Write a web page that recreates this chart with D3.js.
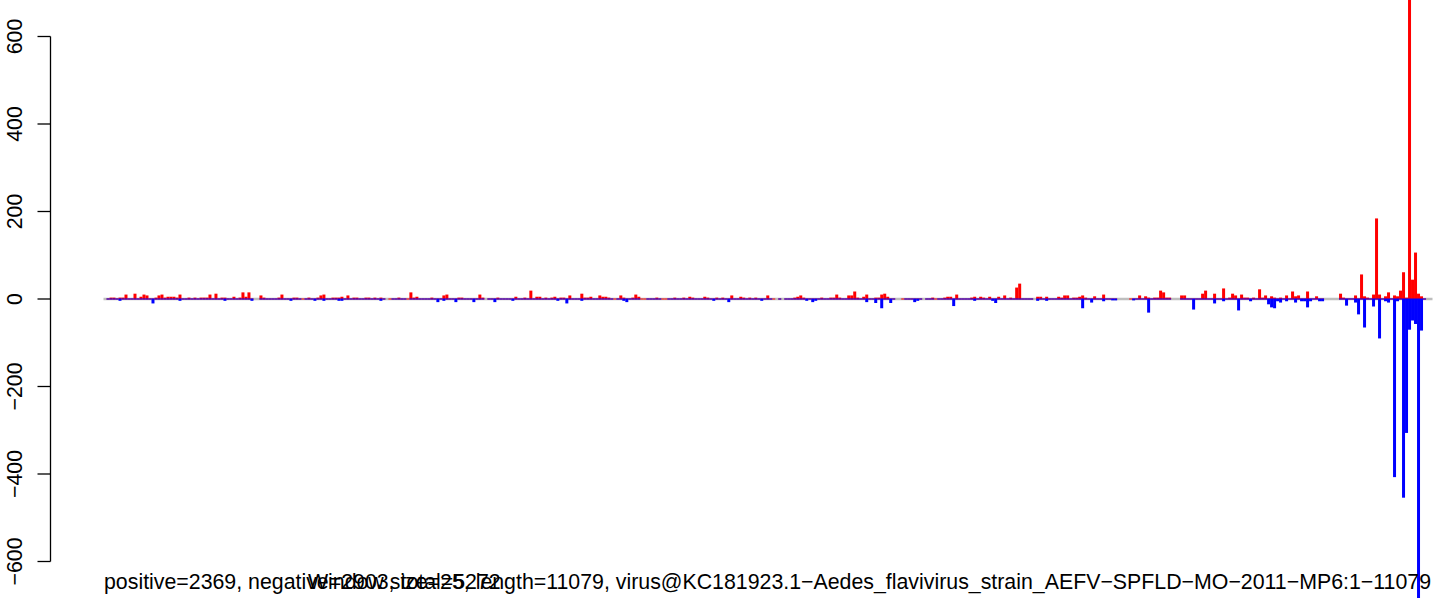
<!DOCTYPE html>
<html>
<head>
<meta charset="utf-8">
<script src="https://cdn.jsdelivr.net/npm/d3@7"></script>
<style>
  html, body { margin: 0; padding: 0; background: #fff; }
  svg { display: block; }
  text { font-family: "Liberation Sans", Arial, Helvetica, sans-serif; }
</style>
</head>
<body>
<svg id="chart" width="1444" height="598"></svg>
<script>
// ---- data ----
const windowSize = 25;
const genomeLength = 11079;
const yTicks = [-600, -400, -200, 0, 200, 400, 600];

// positive-strand read counts per 25-nt window (null = no data)
const positive = [
null,0,2,2,0,2,2,9,0,0,11,0,4,9,7,0,0,2,7,9,
2,4,4,4,2,9,0,0,2,0,2,0,2,2,2,9,0,11,0,2,
2,0,0,4,0,2,14,4,14,0,null,null,7,2,0,0,0,0,2,9,
0,0,0,2,2,0,0,0,2,0,0,2,7,9,0,0,2,2,2,4,
0,7,0,2,2,0,0,2,2,0,2,0,2,0,null,0,0,0,2,0,
0,0,14,2,4,0,0,0,0,2,0,0,0,7,9,0,0,0,2,2,
0,0,0,0,0,9,2,null,0,0,0,2,0,0,0,0,0,4,0,0,
2,0,18,0,4,4,0,2,0,2,4,0,2,2,0,7,0,0,0,11,
2,2,4,0,0,7,4,4,2,0,0,0,7,2,0,0,2,9,4,0,
0,0,0,0,2,0,0,0,0,0,2,0,0,2,0,4,2,0,0,0,
4,2,0,0,2,0,2,0,0,7,0,0,4,2,0,2,0,2,0,0,
0,7,0,0,null,0,null,0,0,0,2,4,7,2,0,0,0,0,0,2,
0,0,2,2,9,2,0,0,7,7,16,2,0,4,9,0,0,2,2,9,
11,4,0,0,null,null,0,0,0,0,0,0,0,null,0,0,2,0,0,0,
2,4,4,0,9,0,0,0,0,2,4,0,4,2,0,4,0,0,4,0,
7,0,2,0,25,34,0,0,0,0,null,4,4,0,4,0,0,0,4,2,
7,7,0,2,2,4,7,2,0,0,5,0,0,9,0,0,0,0,null,null,
null,null,0,0,0,7,0,5,2,0,2,2,18,14,2,2,null,null,null,7,
7,0,0,0,0,0,11,18,0,0,11,0,0,23,0,2,11,7,0,9,
2,2,0,2,0,21,2,7,0,5,2,0,2,0,7,0,16,5,7,0,
0,16,0,0,5,0,0,null,null,null,null,null,11,2,0,0,0,7,0,55,
5,2,0,9,183,9,0,5,14,0,7,5,18,60,2,720,43,105,11,5,
0,null,null,null];

// negative-strand read counts per 25-nt window (drawn below zero)
const negative = [
null,0,0,0,0,-3,0,0,0,0,0,0,0,0,0,0,-9,0,0,0,
0,0,0,0,0,-3,0,0,0,0,0,0,0,0,0,0,0,0,0,0,
-3,0,0,0,0,0,0,0,0,-3,null,null,0,0,0,0,0,0,0,0,
0,0,-3,0,0,0,null,0,0,0,-3,0,0,-3,0,0,0,0,-3,-3,
0,0,0,0,0,0,0,0,0,0,0,0,-3,0,null,null,0,0,0,0,
0,null,0,0,0,0,0,0,0,0,0,-6,0,-3,0,0,0,-6,0,0,
0,0,0,-6,0,0,0,null,0,0,-6,0,0,0,0,0,-3,0,0,0,
0,0,0,0,0,0,0,0,0,0,0,-3,0,0,-9,0,0,0,0,-3,
0,0,0,0,0,0,0,0,0,0,null,0,0,-3,-6,0,0,0,0,null,
null,0,0,0,0,0,null,null,0,0,0,0,0,0,0,0,0,0,0,0,
0,0,0,-3,0,0,0,0,-6,0,0,0,0,0,0,0,0,0,0,-3,
0,0,0,null,null,0,null,0,0,0,0,0,0,0,-3,0,-6,-3,0,0,
0,0,0,0,0,0,0,0,0,0,0,0,0,0,-6,0,0,-8,0,-20,
0,0,-8,0,null,null,null,0,0,0,-6,-3,0,null,0,0,0,null,0,0,
0,0,0,-15,0,0,0,0,0,0,-3,0,0,0,0,0,-3,-8,0,0,
0,0,0,0,0,0,0,0,0,0,null,-3,0,0,-3,0,0,0,0,0,
0,0,0,0,0,0,-20,0,0,-7,0,0,0,-4,0,0,-2,-2,null,null,
null,null,null,-2,0,0,0,0,-30,0,0,0,0,0,0,0,null,null,null,0,
0,0,0,-23,0,0,0,0,0,0,-9,0,0,-4,0,0,0,0,-25,0,
0,0,-4,0,0,0,0,0,-11,-18,-20,-4,-7,0,-4,0,0,-7,0,-4,
-4,-18,-4,0,0,-4,-4,null,null,null,null,null,0,0,-14,0,0,-7,-34,0,
-64,0,0,-16,0,-89,0,-4,-7,0,-406,-4,0,-453,-305,-69,-48,-56,-700,-71,
0,null,null,null];

const totals = { positive: 2369, negative: 2903, total: 5272 };
const virusName = "KC181923.1-Aedes_flavivirus_strain_AEFV-SPFLD-MO-2011-MP6:1-11079";

// ---- drawing ----
const FS = 21.33;
const svg = d3.select("#chart");
const x = d3.scaleLinear().domain([0, genomeLength]).range([103.5, 1432.5]);
const y = d3.scaleLinear().domain([-600, 600]).range([561.5, 36.5]);
const minus = s => String(s).replace(/-/g, "\u2212");

// zero reference line
svg.append("line")
  .attr("x1", x(0)).attr("x2", x(genomeLength))
  .attr("y1", y(0)).attr("y2", y(0))
  .attr("stroke", "#bebebe").attr("stroke-width", 2.5);

function drawBars(values, color) {
  const data = values.map((v, i) => ({ i, v })).filter(d => d.v !== null);
  svg.append("g").selectAll("rect").data(data).join("rect")
    .attr("x", d => x(d.i * windowSize))
    .attr("width", d => x((d.i + 1) * windowSize) - x(d.i * windowSize))
    .attr("y", d => d.v >= 0 ? y(d.v) - 0.5 : y(0) - 0.5)
    .attr("height", d => Math.max(1, Math.abs(y(d.v) - y(0)) + 1))
    .attr("fill", color);
}
drawBars(positive, "#ff0000");
drawBars(negative, "#0000ff");

// y axis (R style)
const ax = svg.append("g");
ax.append("line")
  .attr("x1", 50.5).attr("x2", 50.5)
  .attr("y1", y(yTicks[0])).attr("y2", y(yTicks[yTicks.length - 1]))
  .attr("stroke", "#000").attr("stroke-width", 1.3);
ax.selectAll("line.tick").data(yTicks).join("line")
  .attr("class", "tick")
  .attr("x1", 37.5).attr("x2", 50.5)
  .attr("y1", d => y(d)).attr("y2", d => y(d))
  .attr("stroke", "#000").attr("stroke-width", 1.3);
ax.selectAll("text").data(yTicks).join("text")
  .attr("transform", d => `translate(22,${y(d)}) rotate(-90)`)
  .attr("text-anchor", "middle")
  .attr("font-size", FS)
  .attr("fill", "#000")
  .text(d => minus(d));

// footer texts
svg.append("text")
  .attr("x", 104).attr("y", 589)
  .attr("font-size", FS).attr("fill", "#000")
  .text(`positive=${totals.positive}, negative=${totals.negative}, total=${totals.total}`);
svg.append("text")
  .attr("x", 1431).attr("y", 589)
  .attr("text-anchor", "end")
  .attr("font-size", FS).attr("fill", "#000")
  .text(minus(`Window size=${windowSize}, length=${genomeLength}, virus@${virusName}`));
</script>
</body>
</html>
